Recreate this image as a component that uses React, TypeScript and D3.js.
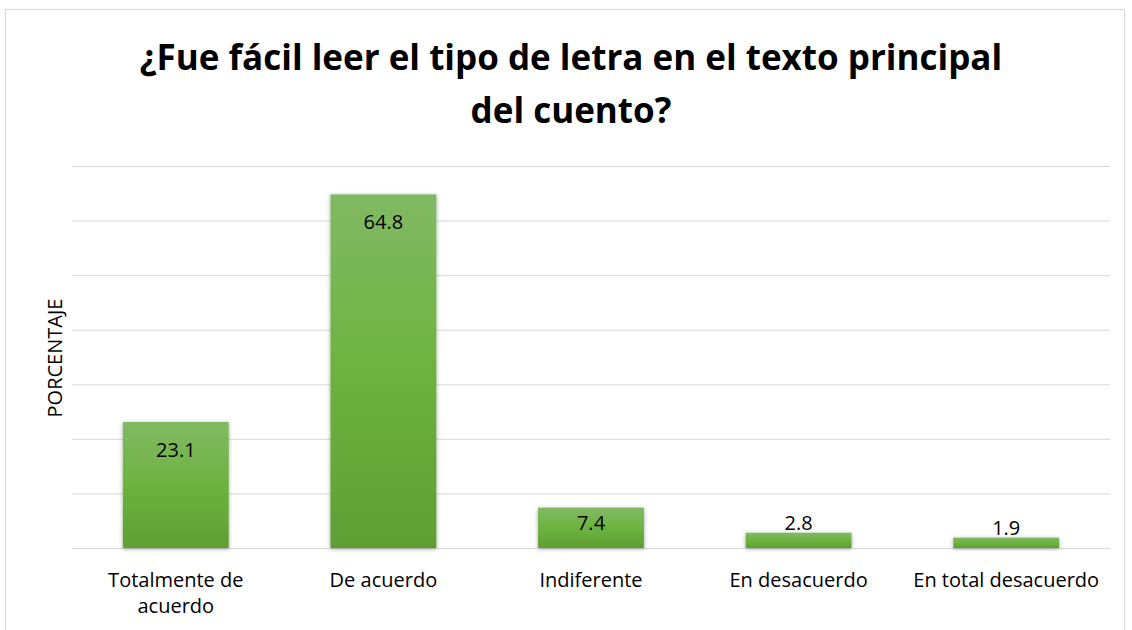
import React from "react";
import * as d3 from "d3";

const categories = ["Totalmente de acuerdo", "De acuerdo", "Indiferente", "En desacuerdo", "En total desacuerdo"];
const categoryLines = [["Totalmente de", "acuerdo"], ["De acuerdo"], ["Indiferente"], ["En desacuerdo"], ["En total desacuerdo"]];
const values = [23.1, 64.8, 7.4, 2.8, 1.9];
const yTicks = [0, 10, 20, 30, 40, 50, 60, 70];
const titleLines = ["¿Fue fácil leer el tipo de letra en el texto principal", "del cuento?"];
const yAxisTitle = "PORCENTAJE";

export default function App() {
  const W = 1132, H = 630;
  const left = 72, right = 1110, top = 166, bottom = 548;
  const x = d3.scaleBand<string>().domain(categories).range([left, right]).paddingInner(0.49).paddingOuter(0.245);
  const y = d3.scaleLinear().domain([0, 70]).range([bottom, top]);
  const font = "'Open Sans', sans-serif";
  return (
    <svg width={W} height={H} style={{ position: "absolute", left: 0, top: 0 }}>
      <defs>
        <linearGradient id="g" x1="0" y1="0" x2="0" y2="1">
          <stop offset="0" stopColor="#82b964" />
          <stop offset="0.5" stopColor="#6db33f" />
          <stop offset="1" stopColor="#5f9e33" />
        </linearGradient>
        <filter id="sh" x="-20%" y="-20%" width="140%" height="140%">
          <feDropShadow dx="0" dy="1" stdDeviation="2" floodColor="#000" floodOpacity="0.35" />
        </filter>
      </defs>
      <rect x={0} y={0} width={W} height={H} fill="#fff" />
      <rect x={5.5} y={9.5} width={1119} height={640} fill="#fff" stroke="#d9d9d9" strokeWidth={1} />
      {titleLines.map((t, i) => (
        <text key={i} x={571} y={70 + i * 52.5} textAnchor="middle" fontFamily={font} fontWeight="bold" fontSize={35} fill="#000">{t}</text>
      ))}
      {yTicks.map(t => (
        <line key={t} x1={left} x2={right} y1={y(t) + 0.5} y2={y(t) + 0.5} stroke="#d9d9d9" strokeWidth={1} />
      ))}
      {values.map((v, i) => {
        const bx = x(categories[i])!;
        const bw = x.bandwidth();
        const yt = y(v);
        const h = bottom - yt;
        const inside = h > 30;
        return (
          <g key={i}>
            <rect x={bx} y={yt} width={bw} height={h} fill="url(#g)" filter="url(#sh)" />
            <text x={bx + bw / 2} y={inside ? yt + Math.min(35, h - 18) : yt - 3} textAnchor="middle" fontFamily={font} fontSize={20} fill="#000">{v.toFixed(1)}</text>
          </g>
        );
      })}
      {categoryLines.map((lines, i) => (
        <text key={i} textAnchor="middle" fontFamily={font} fontSize={20} fill="#000">
          {lines.map((l, j) => (
            <tspan key={j} x={x(categories[i])! + x.bandwidth() / 2} y={587 + j * 26}>{l}</tspan>
          ))}
        </text>
      ))}
      <text transform={`translate(62, 358) rotate(-90)`} textAnchor="middle" fontFamily={font} fontSize={20} fill="#000">{yAxisTitle}</text>
    </svg>
  );
}
